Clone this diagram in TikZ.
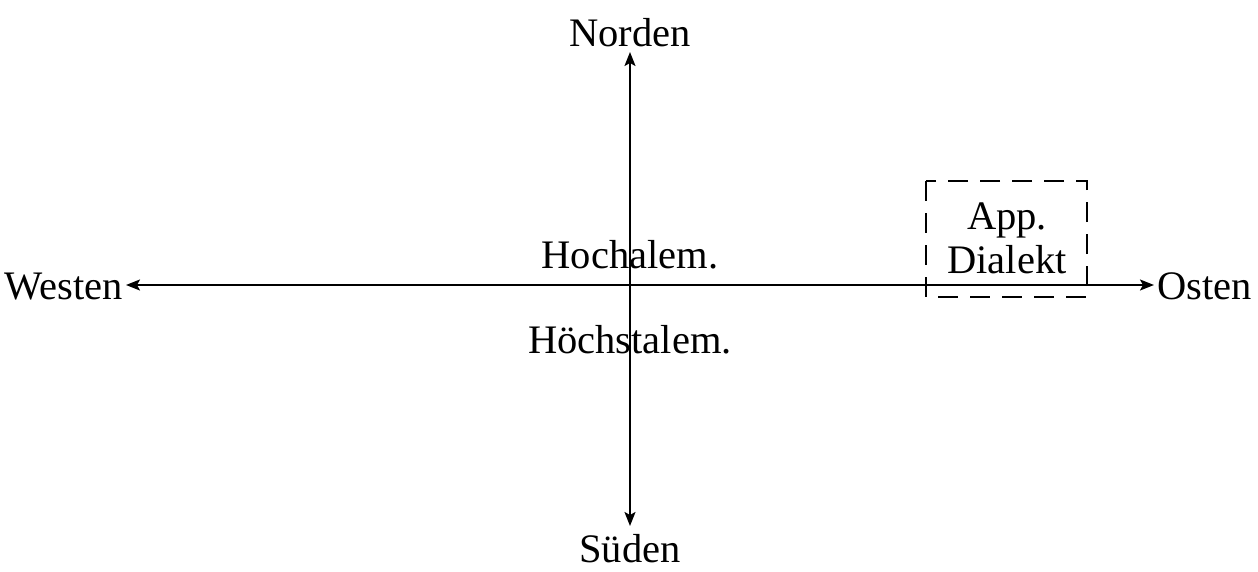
\documentclass[tikz,border=0pt]{standalone}
\usepackage{fontspec}
\setmainfont{Liberation Serif}
\usetikzlibrary{arrows.meta}
\begin{document}
\begin{tikzpicture}[x=1pt,y=-1pt,
  lbl/.style={font=\fontsize{40.5}{44}\selectfont, inner sep=0pt, anchor=base},
  axis/.style={line width=2pt, -{Stealth[length=14pt,width=11pt,inset=3pt]}},
  dbox/.style={draw, line width=1.6pt, dash pattern=on 20pt off 12pt}]
\useasboundingbox (0,0) rectangle (1258,571);
\coordinate (C) at (630,285);
\coordinate (N) at (630,52);
\coordinate (S) at (630,526);
\coordinate (W) at (126,285);
\coordinate (E) at (1154,285);
\draw[axis] (C) -- (N);
\draw[axis] (C) -- (S);
\draw[axis] (C) -- (W);
\draw[axis] (C) -- (E);
\node[lbl] (norden) at (630,46) {Norden};
\node[lbl] (sueden) at (630,562) {Süden};
\node[lbl, anchor=base east] (westen) at (123,299) {Westen};
\node[lbl, anchor=base west] (osten) at (1157,299) {Osten};
\node[lbl] (hoch) at (630,268) {Hochalem.};
\node[lbl] (hoechst) at (630,353) {Höchstalem.};
\node[lbl] (app) at (1007,229) {App.};
\node[lbl] (dial) at (1007,273) {Dialekt};
\draw[dbox] (926,181) rectangle (1087,297);
\end{tikzpicture}
\end{document}
